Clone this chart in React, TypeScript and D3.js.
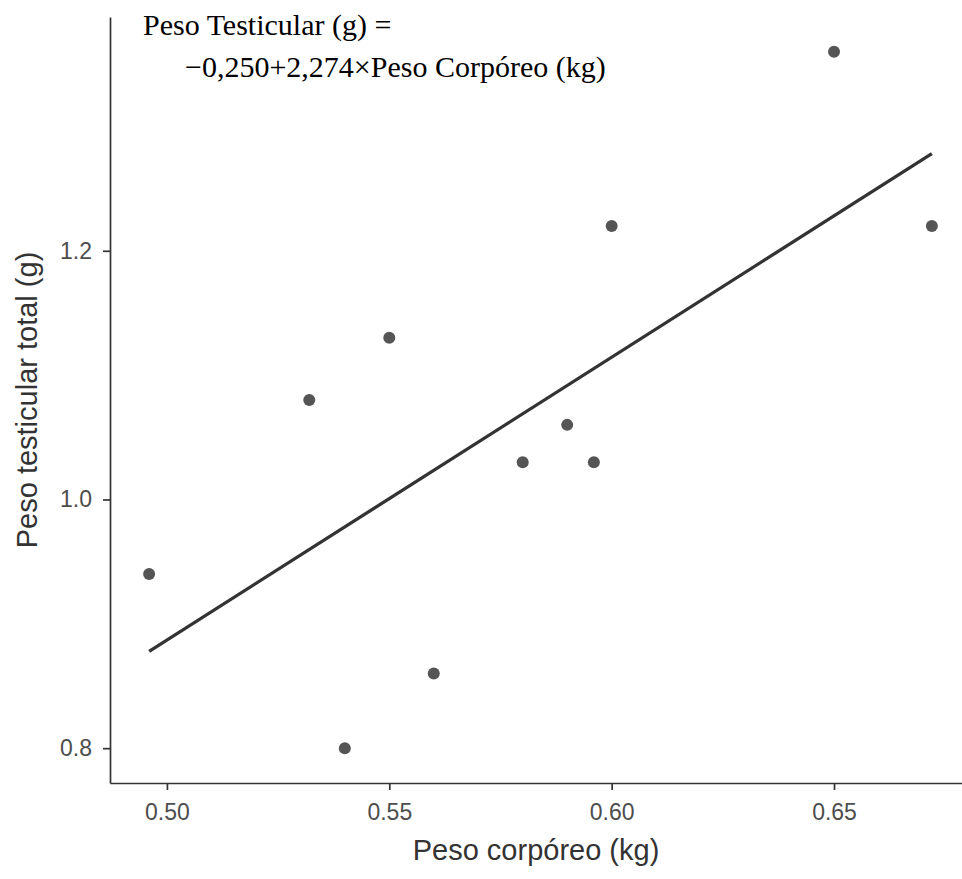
import React, { useEffect, useRef } from 'react';
import * as d3 from 'd3';

// body weight (kg) vs total testicular weight (g)
const pesoCorporeo = [0.496, 0.532, 0.54, 0.55, 0.56, 0.58, 0.59, 0.596, 0.6, 0.65, 0.672];
const pesoTesticular = [0.94, 1.08, 0.8, 1.13, 0.86, 1.03, 1.06, 1.03, 1.22, 1.36, 1.22];
const xTicks = [0.5, 0.55, 0.6, 0.65];
const yTicks = [0.8, 1.0, 1.2];
const intercept = -0.25;
const slope = 2.274;
const equationLines = ['Peso Testicular (g) =', '−0,250+2,274×Peso Corpóreo (kg)'];

const width = 962;
const height = 879;
const left = 110;
const right = 971;
const top = 17;
const bottom = 783;

const expand = (ext: [number, number]): [number, number] => {
  const pad = (ext[1] - ext[0]) * 0.05;
  return [ext[0] - pad, ext[1] + pad];
};

export default function App() {
  const xAxisRef = useRef<SVGGElement>(null);
  const yAxisRef = useRef<SVGGElement>(null);

  const x = d3.scaleLinear()
    .domain(expand(d3.extent(pesoCorporeo) as [number, number]))
    .range([left, right]);
  const y = d3.scaleLinear()
    .domain(expand(d3.extent(pesoTesticular) as [number, number]))
    .range([bottom, top]);

  const xMin = d3.min(pesoCorporeo) as number;
  const xMax = d3.max(pesoCorporeo) as number;
  const fit = [xMin, xMax].map(v => [v, intercept + slope * v] as [number, number]);
  const line = d3.line<[number, number]>()
    .x(d => x(d[0]))
    .y(d => y(d[1]));

  useEffect(() => {
    const xAxis = d3.axisBottom(x)
      .tickValues(xTicks)
      .tickFormat(d3.format('.2f'))
      .tickSize(7)
      .tickSizeOuter(0)
      .tickPadding(14);
    const yAxis = d3.axisLeft(y)
      .tickValues(yTicks)
      .tickFormat(d3.format('.1f'))
      .tickSize(7)
      .tickSizeOuter(0)
      .tickPadding(11);

    const gx = d3.select(xAxisRef.current!);
    gx.selectAll('*').remove();
    gx.call(xAxis);
    const gy = d3.select(yAxisRef.current!);
    gy.selectAll('*').remove();
    gy.call(yAxis);

    [gx, gy].forEach(g => {
      g.select('.domain').attr('stroke', '#333').attr('stroke-width', 1.7);
      g.selectAll('.tick line').attr('stroke', '#333').attr('stroke-width', 1.7);
      g.selectAll('.tick text')
        .attr('fill', '#4d4d4d')
        .style('font-family', '"Liberation Sans", Arial, sans-serif')
        .style('font-size', '23px');
    });
  }, []);

  return (
    <svg width={width} height={height}
      style={{ position: 'absolute', left: 0, top: 0, display: 'block', background: '#fff' }}>
      <g ref={xAxisRef} transform={`translate(0,${bottom})`} />
      <g ref={yAxisRef} transform={`translate(${left},0)`} />

      <path d={line(fit) || ''} fill="none" stroke="#333" strokeWidth={3.3} />

      {pesoCorporeo.map((v, i) => (
        <circle key={i} cx={x(v)} cy={y(pesoTesticular[i])} r={6} fill="#555" />
      ))}

      <text x={143} y={35} fontFamily='"Liberation Serif", "Times New Roman", serif' fontSize={30} fill="#000">
        {equationLines[0]}
      </text>
      <text x={185} y={77} fontFamily='"Liberation Serif", "Times New Roman", serif' fontSize={30} fill="#000">
        {equationLines[1]}
      </text>

      <text x={(left + 962) / 2} y={860} textAnchor="middle"
        fontFamily='"Liberation Sans", Arial, sans-serif' fontSize={29} fill="#333">
        Peso corpóreo (kg)
      </text>
      <text transform={`translate(37,${(top + bottom) / 2}) rotate(-90)`} textAnchor="middle"
        fontFamily='"Liberation Sans", Arial, sans-serif' fontSize={29} fill="#333">
        Peso testicular total (g)
      </text>
    </svg>
  );
}
